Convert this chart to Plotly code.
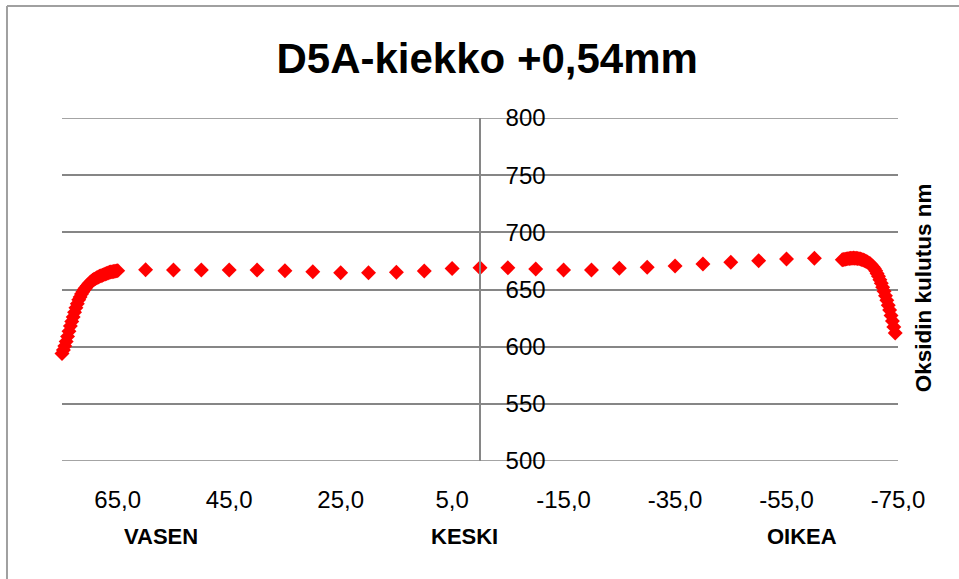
import plotly.graph_objects as go

# Oxide consumption (nm) across the disc, position in mm (left side positive)
pos_left_edge = [75.0, 74.75, 74.5, 74.25, 74.0, 73.75, 73.5, 73.25, 73.0, 72.75, 72.5,
                 72.25, 72.0, 71.75, 71.5, 71.25, 71.0, 70.75, 70.5, 70.25, 70.0,
                 69.75, 69.5, 69.25, 69.0, 68.75, 68.5, 68.25, 68.0, 67.75, 67.5,
                 67.25, 67.0, 66.75, 66.5, 66.25, 66.0, 65.75, 65.5, 65.25, 65.0]
nm_left_edge = [594, 597, 600.5, 604.5, 609, 613.5, 618, 622, 626, 630, 634,
                637.5, 641, 643.5, 646, 648, 650, 651.5, 653, 654.5, 656,
                657, 658, 659, 659.5, 660.3, 661, 661.5, 662, 662.5, 663,
                663.5, 664, 664.5, 665, 665.3, 665.5, 665.8, 666, 666.3, 666.5]

pos_middle = [60, 55, 50, 45, 40, 35, 30, 25, 20, 15, 10, 5, 0,
              -5, -10, -15, -20, -25, -30, -35, -40, -45, -50, -55, -60]
nm_middle = [667.2, 667.0, 667.0, 667.0, 667.0, 666.4, 665.6, 664.7, 664.7, 665.0, 666.2, 668.3, 669.0,
             669.0, 668.0, 667.0, 667.0, 668.5, 669.4, 670.6, 672.3, 673.8, 675.2, 676.7, 677.3]

pos_right_edge = [-65.0, -65.25, -65.5, -65.75, -66.0, -66.25, -66.5, -66.75, -67.0, -67.25,
                  -67.5, -67.75, -68.0, -68.25, -68.5, -68.75, -69.0, -69.25, -69.5, -69.75,
                  -70.0, -70.25, -70.5, -70.75, -71.0, -71.25, -71.5, -71.75, -72.0, -72.25,
                  -72.5, -72.75, -73.0, -73.25, -73.5, -73.75, -74.0, -74.25, -74.5]
nm_right_edge = [676, 676.3, 676.5, 676.8, 677, 677.2, 677.3, 677.4, 677.5, 677.4,
                 677.3, 677.2, 677, 676.7, 676.3, 675.8, 675.3, 674.7, 674, 673.3,
                 672.5, 671.3, 670, 668.3, 666.5, 664, 661.5, 658.5, 655.5, 652,
                 648.5, 644.5, 640.5, 636.3, 632, 627.3, 622.5, 617.3, 612]

x_ticks = [65, 45, 25, 5, -15, -35, -55, -75]
x_tick_text = ["65,0", "45,0", "25,0", "5,0", "-15,0", "-35,0", "-55,0", "-75,0"]
y_ticks = [500, 550, 600, 650, 700, 750, 800]
zone_labels = ["VASEN", "KESKI", "OIKEA"]
zone_pos = [0.1184, 0.482, 0.885]

positions = pos_left_edge + pos_middle + pos_right_edge
values = nm_left_edge + nm_middle + nm_right_edge

FONT = "Liberation Sans, Arial, sans-serif"
GRID = "#868686"
GRID_W = 1.6

fig = go.Figure()
fig.add_trace(go.Scatter(
    x=positions, y=values, mode="markers",
    marker=dict(symbol="diamond", size=11.5, color="#ff0000", line=dict(width=0)),
    cliponaxis=False, showlegend=False,
))

fig.update_layout(
    width=959, height=579,
    margin=dict(l=62, r=61, t=118, b=118),
    paper_bgcolor="white", plot_bgcolor="white",
    font=dict(family=FONT, color="black", size=24),
    title=dict(text="D5A-kiekko +0,54mm", x=0.508, xref="container", xanchor="center",
               y=0.9, yref="container", yanchor="middle",
               font=dict(family=FONT, size=42, color="black", weight="bold")),
    xaxis=dict(range=[75, -75], tickvals=x_ticks, ticktext=x_tick_text,
               showgrid=False, zeroline=False, showline=False, ticks="",
               ticklabelstandoff=22, tickfont=dict(size=24)),
    yaxis=dict(range=[500, 800], tickvals=y_ticks, anchor="free", position=0.5, side="right",
               showgrid=True, gridcolor=GRID, gridwidth=GRID_W, zeroline=False,
               showline=True, linecolor=GRID, linewidth=GRID_W, ticks="",
               ticklabelstandoff=20, tickfont=dict(size=24)),
)

# gridlines at the ends of the value range
for v in (y_ticks[0], y_ticks[-1]):
    fig.add_shape(type="line", xref="paper", yref="y", x0=0, x1=1, y0=v, y1=v,
                  line=dict(color=GRID, width=GRID_W), layer="below")

for label, px in zip(zone_labels, zone_pos):
    fig.add_annotation(text=label, x=px, y=-0.2187, xref="paper", yref="paper",
                       showarrow=False, xanchor="center", yanchor="middle",
                       font=dict(family=FONT, size=22, color="black", weight="bold"))

fig.add_annotation(text="Oksidin kulutus nm", x=1.03, y=0.504, xref="paper", yref="paper",
                   textangle=-90, showarrow=False, xanchor="center", yanchor="middle",
                   font=dict(family=FONT, size=22.5, color="black", weight="bold"))

# chart frame (left and top edges)
fig.add_shape(type="line", xref="paper", yref="paper", x0=-0.0658, x1=-0.0658, y0=-0.4, y1=1.3265,
              line=dict(color="#a0a0a0", width=2))
fig.add_shape(type="line", xref="paper", yref="paper", x0=-0.0658, x1=1.1, y0=1.3265, y1=1.3265,
              line=dict(color="#a0a0a0", width=2))

fig.write_html("out.html")
